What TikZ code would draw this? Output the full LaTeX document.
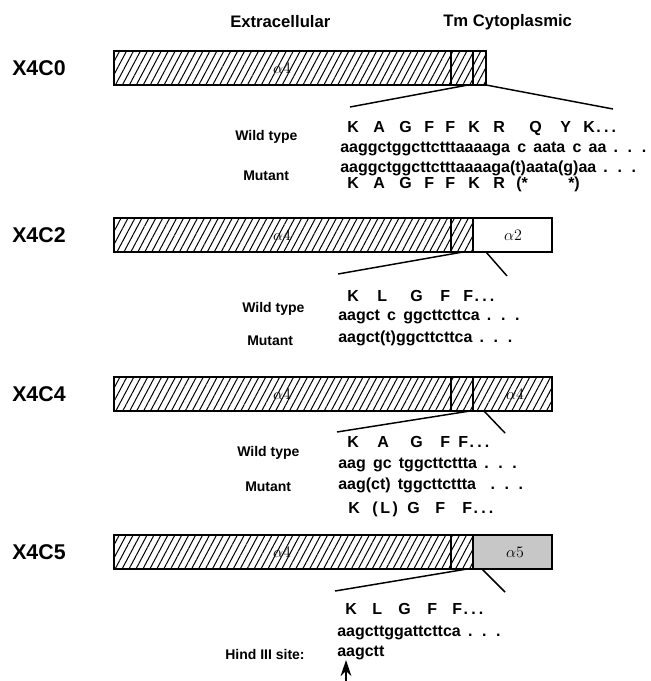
\documentclass[tikz,border=0pt]{standalone}
\usepackage{fontspec}
\setmainfont{Liberation Sans}
\usepackage{tikz}
\usetikzlibrary{arrows.meta, patterns.meta}

\newcommand{\seqgap}{\hspace{0.45em}}
\newcommand{\seqdots}{.\hspace{0.6em}.\hspace{0.6em}.}
\newcommand{\resdots}{\hspace{0.1em}.\hspace{0.2em}.\hspace{0.2em}.}

\begin{document}
\begin{tikzpicture}[x=0.75pt, y=-0.75pt,
    rowlabel/.style={anchor=west, inner sep=0, font=\bfseries\fontsize{16}{18}\selectfont},
    header/.style={anchor=west, inner sep=0, font=\bfseries\fontsize{12.5}{14}\selectfont},
    kindlabel/.style={anchor=west, inner sep=0, font=\bfseries\fontsize{10.5}{12}\selectfont},
    seqtext/.style={anchor=west, inner sep=0, font=\bfseries\fontsize{12}{14}\selectfont},
    restext/.style={anchor=base west, inner sep=0, font=\bfseries\fontsize{12}{14}\selectfont},
    sublabel/.style={inner sep=0, font=\fontsize{13}{13}\selectfont},
    hatched/.style={pattern={Lines[angle=62, distance=4.6pt, line width=0.75pt]}},
    barline/.style={draw, line width=1.2pt},
    divider/.style={line width=0.8pt},
    zoomline/.style={line width=1.1pt},
    cutarrow/.style={line width=1.4pt, -{Stealth[length=12pt, width=8pt]}}]
    \useasboundingbox (0,0) rectangle (650,681);

    \node[header] (extra) at (230,22) {Extracellular};
    \node[header] (cyto) at (443,22) {Tm Cytoplasmic};

    % alpha4 extracellular part of every construct
    \foreach \ytop/\rowname in {51/X4C0, 218/X4C2, 377/X4C4, 535/X4C5} {
        \fill[hatched] (114,\ytop) rectangle (473,\ytop+34);
        \draw[divider] (451,\ytop) -- (451,\ytop+34);
        \node[sublabel] (a4-\rowname) at (282,\ytop+17) {$\alpha4$};
        \node[rowlabel] (\rowname) at (12,\ytop+17) {\rowname};
    }

    % X4C0
    \fill[hatched] (473,51) rectangle (486,85);
    \draw[divider] (473,51) -- (473,85);
    \draw[barline] (114,51) rectangle (486,85);
    \coordinate (c0-l) at (468,85);
    \coordinate (c0-le) at (350,107);
    \coordinate (c0-r) at (486,85);
    \coordinate (c0-re) at (613,109);
    \draw[zoomline] (c0-l) -- (c0-le);
    \draw[zoomline] (c0-r) -- (c0-re);

    \foreach \x/\res [count=\i] in {347/K, 373/A, 399/G, 424/F, 445/F, 468/K, 493/R, 529/Q, 560/Y, 583/K\resdots}
        \node[restext] (wt0-\i) at (\x,132.5) {\res};
    \node[kindlabel] (wt0) at (235,137) {Wild type};
    \node[seqtext] (seqwt0) at (340,149) {aaggctggcttctttaaaaga\seqgap c\seqgap aata\seqgap c\seqgap aa\seqgap\seqdots};
    \node[seqtext] (seqmut0) at (340,168) {aaggctggcttctttaaaaga(t)aata(g)aa\seqgap\seqdots};
    \node[kindlabel] (mut0) at (243,176) {Mutant};
    \foreach \x/\res [count=\i] in {347/K, 373/A, 399/G, 424/F, 445/F, 468/K, 493/R, 516/(*, 568/*)}
        \node[restext] (mut0-\i) at (\x,188.5) {\res};

    % X4C2
    \draw[barline, fill=white] (473,218) rectangle (552,252);
    \draw[barline] (114,218) rectangle (552,252);
    \node[sublabel] (a2) at (513,235) {$\alpha2$};
    \coordinate (c2-l) at (463,252);
    \coordinate (c2-le) at (338,274);
    \coordinate (c2-r) at (486,252);
    \coordinate (c2-re) at (507,276);
    \draw[zoomline] (c2-l) -- (c2-le);
    \draw[zoomline] (c2-r) -- (c2-re);

    \foreach \x/\res [count=\i] in {347/K, 377/L, 410/G, 440/F, 463/F\resdots}
        \node[restext] (wt2-\i) at (\x,301.5) {\res};
    \node[kindlabel] (wt2) at (242,309) {Wild type};
    \node[seqtext] (seqwt2) at (338,317) {aagct\seqgap c\seqgap ggcttcttca\seqgap\seqdots};
    \node[seqtext] (seqmut2) at (338,338) {aagct(t)ggcttcttca\seqgap\seqdots};
    \node[kindlabel] (mut2) at (247,341) {Mutant};

    % X4C4
    \fill[hatched] (473,377) rectangle (552,411);
    \draw[divider] (473,377) -- (473,411);
    \draw[barline] (114,377) rectangle (552,411);
    \node[sublabel] (a4-tail) at (515,394) {$\alpha4$};
    \coordinate (c4-l) at (470,411);
    \coordinate (c4-le) at (337,432);
    \coordinate (c4-r) at (484,411);
    \coordinate (c4-re) at (505,433);
    \draw[zoomline] (c4-l) -- (c4-le);
    \draw[zoomline] (c4-r) -- (c4-re);

    \foreach \x/\res [count=\i] in {347/K, 377/A, 410/G, 440/F, 458/F\resdots}
        \node[restext] (wt4-\i) at (\x,447.5) {\res};
    \node[kindlabel] (wt4) at (237,453) {Wild type};
    \node[seqtext] (seqwt4) at (338,465) {aag\seqgap gc\seqgap tggcttcttta\seqgap\seqdots};
    \node[seqtext] (seqmut4) at (338,485) {aag(ct)\seqgap tggcttcttta\seqgap\seqgap\seqdots};
    \node[kindlabel] (mut4) at (245,487) {Mutant};
    \foreach \x/\res [count=\i] in {348/K, 372/(\,L\,), 407/G, 435/F, 462/F\resdots}
        \node[restext] (mut4-\i) at (\x,513.5) {\res};

    % X4C5
    \draw[barline, fill=black!22] (473,535) rectangle (552,569);
    \draw[barline] (114,535) rectangle (552,569);
    \node[sublabel] (a5) at (515,552) {$\alpha5$};
    \coordinate (c5-l) at (467,569);
    \coordinate (c5-le) at (335,591);
    \coordinate (c5-r) at (482,569);
    \coordinate (c5-re) at (505,592);
    \draw[zoomline] (c5-l) -- (c5-le);
    \draw[zoomline] (c5-r) -- (c5-re);

    \foreach \x/\res [count=\i] in {345/K, 372/L, 398/G, 427/F, 452/F\resdots}
        \node[restext] (wt5-\i) at (\x,614.5) {\res};
    \node[seqtext] (seqwt5) at (337,633) {aagcttggattcttca\seqgap\seqdots};
    \node[kindlabel] (hind) at (225,654) {Hind III site:};
    \node[seqtext] (hindseq) at (337,653) {aagctt};
    \coordinate (cutbase) at (346,686);
    \coordinate (cutsite) at (346,660);
    \draw[cutarrow] (cutbase) -- (cutsite);
\end{tikzpicture}
\end{document}
